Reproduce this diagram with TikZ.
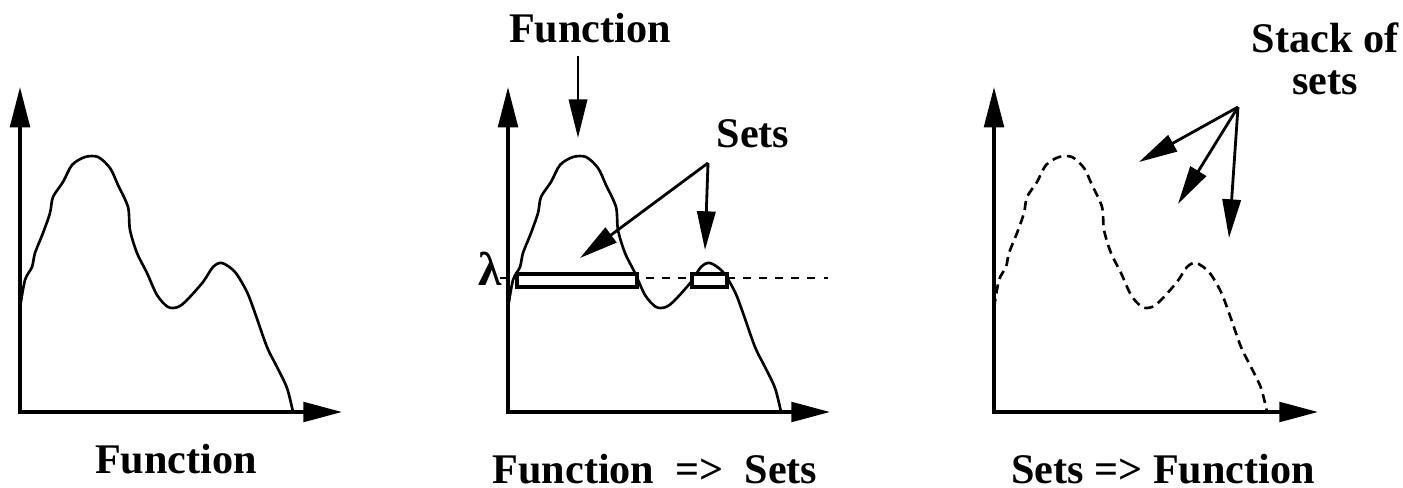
\documentclass[tikz,border=0pt]{standalone}
\usepackage{fontspec}
\setmainfont{Liberation Serif}
\usetikzlibrary{arrows.meta,positioning}

\tikzset{
    % axes with solid triangle heads at both ends
    axisline/.style={
        line width=0.95pt,
        line join=miter,
        {Triangle[length=11.5pt,width=5.6pt]}-{Triangle[length=11pt,width=5.6pt]}
    },
    curveline/.style={
        line width=0.75pt,
        line join=round
    },
    dashedcurve/.style={
        curveline,
        dash pattern=on 2.6pt off 1.6pt
    },
    levelline/.style={
        line width=0.7pt,
        dash pattern=on 2.3pt off 2.3pt
    },
    setbox/.style={
        draw,
        fill=white,
        line width=0.95pt
    },
    arrow/.style={
        -{Triangle[length=11pt,width=5.2pt]},
        line width=0.8pt
    },
    tagtext/.style={
        font=\bfseries\fontsize{12}{12}\selectfont,
        inner sep=0pt,
        anchor=base,
        align=center
    }
}

\newcommand{\fcurve}{plot[smooth, tension=0.5] coordinates {
    (20,308) (25,280) (32,267) (35,253) (43,233) (50,213) (53,197)
    (63,182) (72,165) (85,157) (98,157) (110,168) (118,185) (128,207)
    (130,230) (137,253) (147,273) (157,295) (168,307) (178,307)
    (187,300) (203,282) (213,267) (222,263) (235,272) (247,292)
    (255,313) (267,347) (277,367) (287,388) (293,412)}}

\begin{document}
\begin{tikzpicture}[x=0.01cm, y=-0.01cm]
    \useasboundingbox (0,0) rectangle (1403,488);

    % Left: the function
    \draw[curveline] \fcurve;
    \draw[axisline] (20,87) -- (20,412) -- (342,412);
    \node[tagtext] (fnbottom) at (176,473) {Function};

    % Middle: function => sets
    \begin{scope}[shift={(488,0)}]
        \draw[curveline] \fcurve;
    \end{scope}
    \draw[levelline] (500,278) -- (828,278);
    \draw[setbox] (517,274) rectangle (637,287);
    \draw[setbox] (692,274) rectangle (727,287);
    \draw[axisline] (508,87) -- (508,412) -- (830,412);
    \node[tagtext, font=\bfseries\fontsize{13.5}{13.5}\selectfont] (lambda) at (490,285) {λ};
    \node[tagtext] (fntop) at (590,43) {Function};
    \node[tagtext] (setstop) at (753,148) {Sets};
    \node[tagtext] (fnsets) at (655,483) {Function\ \ =>\ \ Sets};

    \coordinate (peak) at (578,138);
    \coordinate (setsfrom) at (708,163);
    \coordinate (bigset) at (580,258);
    \coordinate (smallset) at (705,250);

    % Arrows
    \draw[arrow, shorten <=3.4pt] (fntop.south -| peak) -- (peak);
    \draw[arrow] (setsfrom) -- (bigset);
    \draw[arrow] (setsfrom) -- (smallset);

    % Right: sets => function
    \begin{scope}[shift={(974,0)}]
        \draw[dashedcurve] \fcurve;
    \end{scope}
    \draw[axisline] (994,87) -- (994,412) -- (1318,412);
    \node[tagtext] (stack) at (1325,95) {Stack of\\sets};
    \node[tagtext] (setsfn) at (1163,483) {Sets => Function};

    \coordinate (stackfrom) at (1238,107);
    \coordinate (stackA) at (1139,162);
    \coordinate (stackB) at (1178,204);
    \coordinate (stackC) at (1229,238);

    \draw[arrow] (stackfrom) -- (stackA);
    \draw[arrow] (stackfrom) -- (stackB);
    \draw[arrow] (stackfrom) -- (stackC);
\end{tikzpicture}
\end{document}
